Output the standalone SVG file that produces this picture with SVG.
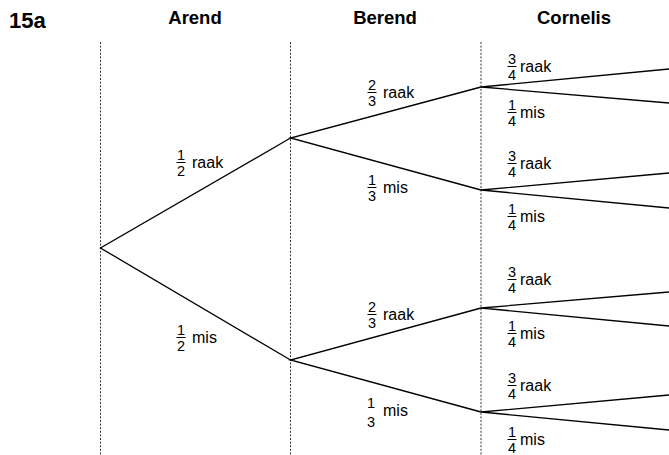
<svg xmlns="http://www.w3.org/2000/svg" width="669" height="455" viewBox="0 0 669 455">
<style>
.t{font-family:"Liberation Sans",Arial,sans-serif;font-weight:bold;fill:#000}
.d{font-family:"Liberation Sans",Arial,sans-serif;font-size:14.5px;text-anchor:middle;fill:#000}
.w{font-family:"Liberation Sans",Arial,sans-serif;font-size:16px;fill:#000}
.bar{stroke:#000;stroke-width:1}
.br{stroke:#000;stroke-width:1.3;fill:none}
.gl{stroke:#333;stroke-width:1;stroke-dasharray:2 1.6}
</style>
<rect width="669" height="455" fill="#fff"/>
<g id="title"><text class="t" x="9" y="28" font-size="22">15a</text></g>
<g id="headers">
<text class="t" x="195" y="24" font-size="18.5" text-anchor="middle">Arend</text>
<text class="t" x="385" y="24" font-size="18.5" text-anchor="middle">Berend</text>
<text class="t" x="574" y="24" font-size="18.5" text-anchor="middle">Cornelis</text>
</g>
<g id="guides">
<line class="gl" x1="100.5" y1="42" x2="100.5" y2="455"/>
<line class="gl" x1="290.5" y1="42" x2="290.5" y2="455"/>
<line class="gl" x1="481" y1="42" x2="481" y2="455"/>
</g>
<g id="connectors">
<polyline class="br" points="290.5,138 100.5,248 290.5,360"/>
<polyline class="br" points="481,87 290.5,138 481,190"/>
<polyline class="br" points="481,308 290.5,360 481,412"/>
<polyline class="br" points="669,69 481,87 669,103"/>
<polyline class="br" points="669,173 481,190 669,208"/>
<polyline class="br" points="669,292 481,308 669,326"/>
<polyline class="br" points="669,395 481,412 669,430"/>
</g>
<g id="lbl-a-raak"><text class="d" x="181" y="160">1</text><line class="bar" x1="176.5" y1="162.5" x2="185.5" y2="162.5"/><text class="d" x="181" y="176">2</text><text class="w" x="192" y="168">raak</text></g>
<g id="lbl-a-mis"><text class="d" x="181" y="335">1</text><line class="bar" x1="176.5" y1="337.5" x2="185.5" y2="337.5"/><text class="d" x="181" y="351">2</text><text class="w" x="192" y="343">mis</text></g>
<g id="lbl-b1-raak"><text class="d" x="372" y="90">2</text><line class="bar" x1="367.5" y1="92.5" x2="376.5" y2="92.5"/><text class="d" x="372" y="106">3</text><text class="w" x="383" y="98">raak</text></g>
<g id="lbl-b1-mis"><text class="d" x="372" y="185">1</text><line class="bar" x1="367.5" y1="187.5" x2="376.5" y2="187.5"/><text class="d" x="372" y="201">3</text><text class="w" x="383" y="193">mis</text></g>
<g id="lbl-b2-raak"><text class="d" x="372" y="312">2</text><line class="bar" x1="367.5" y1="314.5" x2="376.5" y2="314.5"/><text class="d" x="372" y="328">3</text><text class="w" x="383" y="320">raak</text></g>
<g id="lbl-b2-mis"><text class="d" x="371" y="408">1</text><text class="d" x="371" y="427">3</text><text class="w" x="383" y="416">mis</text></g>
<g id="lbl-c1-raak"><text class="d" x="512" y="64">3</text><line class="bar" x1="507.5" y1="66.5" x2="516.5" y2="66.5"/><text class="d" x="512" y="80">4</text><text class="w" x="520" y="72">raak</text></g>
<g id="lbl-c1-mis"><text class="d" x="512" y="110">1</text><line class="bar" x1="507.5" y1="112.5" x2="516.5" y2="112.5"/><text class="d" x="512" y="126">4</text><text class="w" x="520" y="118">mis</text></g>
<g id="lbl-c2-raak"><text class="d" x="512" y="161">3</text><line class="bar" x1="507.5" y1="163.5" x2="516.5" y2="163.5"/><text class="d" x="512" y="177">4</text><text class="w" x="520" y="169">raak</text></g>
<g id="lbl-c2-mis"><text class="d" x="512" y="214">1</text><line class="bar" x1="507.5" y1="216.5" x2="516.5" y2="216.5"/><text class="d" x="512" y="230">4</text><text class="w" x="520" y="222">mis</text></g>
<g id="lbl-c3-raak"><text class="d" x="512" y="277">3</text><line class="bar" x1="507.5" y1="279.5" x2="516.5" y2="279.5"/><text class="d" x="512" y="293">4</text><text class="w" x="520" y="285">raak</text></g>
<g id="lbl-c3-mis"><text class="d" x="512" y="331">1</text><line class="bar" x1="507.5" y1="333.5" x2="516.5" y2="333.5"/><text class="d" x="512" y="347">4</text><text class="w" x="520" y="339">mis</text></g>
<g id="lbl-c4-raak"><text class="d" x="512" y="383">3</text><line class="bar" x1="507.5" y1="385.5" x2="516.5" y2="385.5"/><text class="d" x="512" y="399">4</text><text class="w" x="520" y="391">raak</text></g>
<g id="lbl-c4-mis"><text class="d" x="512" y="437">1</text><line class="bar" x1="507.5" y1="439.5" x2="516.5" y2="439.5"/><text class="d" x="512" y="453">4</text><text class="w" x="520" y="445">mis</text></g>
</svg>
